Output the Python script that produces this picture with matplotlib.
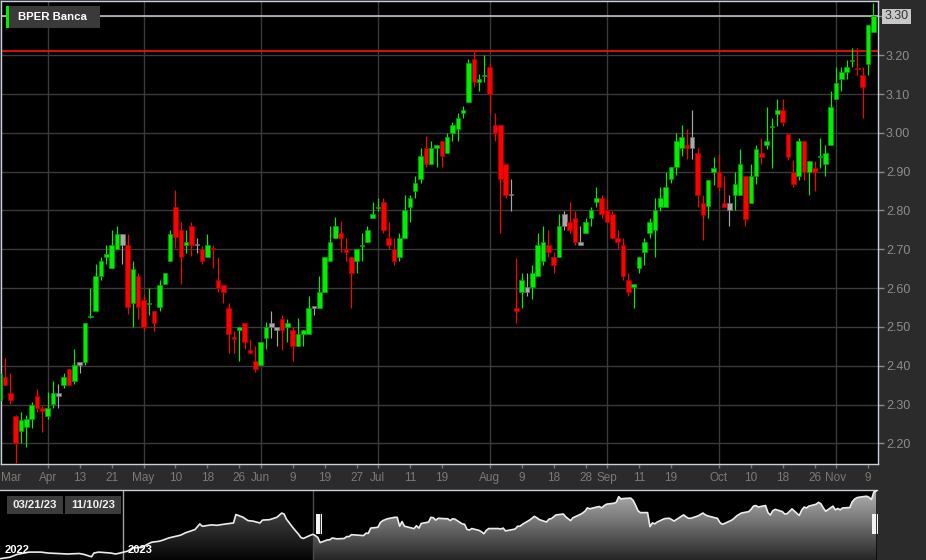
import numpy as np
import pandas as pd
import matplotlib
matplotlib.use("Agg")
import matplotlib.pyplot as plt
import matplotlib.dates as mdates
from matplotlib.colors import LinearSegmentedColormap
from matplotlib.patches import Rectangle, Polygon
from matplotlib.transforms import blended_transform_factory

plt.rcParams["font.family"] = ["Liberation Sans", "DejaVu Sans"]

W, H = 926, 560

TITLE = "BPER Banca"
START, END = "2023-03-21", "2023-11-10"
HOLIDAYS = ["2023-04-07", "2023-04-10", "2023-05-01", "2023-08-15"]

# daily OHLC, Borsa Italiana sessions from START to END
opens = [
    2.312, 2.371, 2.330, 2.270, 2.232, 2.242, 2.262, 2.321, 2.290, 2.271,
    2.301, 2.321, 2.351, 2.391, 2.360, 2.410, 2.410, 2.526, 2.541, 2.631,
    2.680, 2.651, 2.701, 2.710, 2.710, 2.561, 2.630, 2.570, 2.558, 2.541,
    2.551, 2.610, 2.670, 2.809, 2.749, 2.710, 2.760, 2.710, 2.700, 2.681,
    2.701, 2.620, 2.609, 2.549, 2.472, 2.493, 2.511, 2.441, 2.411, 2.402,
    2.471, 2.511, 2.491, 2.520, 2.501, 2.491, 2.451, 2.482, 2.482, 2.550,
    2.550, 2.591, 2.670, 2.730, 2.741, 2.700, 2.681, 2.670, 2.709, 2.720,
    2.780, 2.807, 2.821, 2.730, 2.700, 2.681, 2.730, 2.810, 2.851, 2.881,
    2.960, 2.921, 2.960, 2.979, 2.949, 2.999, 3.009, 3.050, 3.080, 3.190,
    3.130, 3.146, 3.170, 3.020, 3.020, 2.919, 2.840, 2.550, 2.591, 2.591,
    2.602, 2.632, 2.670, 2.711, 2.681, 2.681, 2.761, 2.771, 2.780, 2.711,
    2.741, 2.780, 2.821, 2.831, 2.801, 2.791, 2.730, 2.711, 2.621, 2.602,
    2.651, 2.692, 2.741, 2.750, 2.810, 2.810, 2.881, 2.911, 2.960, 2.970,
    2.960, 2.948, 2.819, 2.811, 2.899, 2.899, 2.819, 2.800, 2.839, 2.839,
    2.890, 2.819, 2.890, 2.948, 2.968, 3.016, 3.049, 3.058, 2.998, 2.899,
    2.890, 2.978, 2.899, 2.909, 2.937, 2.919, 2.968, 3.088, 3.139, 3.158,
    3.186, 3.167, 3.148, 3.178, 3.259,
]
highs = [
    2.390, 2.420, 2.382, 2.272, 2.281, 2.272, 2.306, 2.341, 2.296, 2.333,
    2.360, 2.352, 2.381, 2.391, 2.442, 2.410, 2.511, 2.601, 2.661, 2.681,
    2.710, 2.751, 2.761, 2.740, 2.740, 2.670, 2.639, 2.584, 2.601, 2.541,
    2.620, 2.639, 2.751, 2.852, 2.771, 2.749, 2.771, 2.730, 2.708, 2.740,
    2.710, 2.681, 2.609, 2.561, 2.490, 2.501, 2.511, 2.470, 2.451, 2.462,
    2.512, 2.542, 2.501, 2.530, 2.520, 2.501, 2.522, 2.491, 2.580, 2.551,
    2.630, 2.681, 2.761, 2.782, 2.772, 2.730, 2.681, 2.700, 2.741, 2.761,
    2.821, 2.831, 2.831, 2.771, 2.730, 2.741, 2.840, 2.840, 2.889, 2.960,
    2.991, 2.979, 2.970, 2.979, 3.000, 3.029, 3.051, 3.070, 3.190, 3.209,
    3.151, 3.200, 3.181, 3.051, 3.020, 2.919, 2.881, 2.678, 2.640, 2.640,
    2.660, 2.741, 2.761, 2.750, 2.692, 2.791, 2.799, 2.821, 2.799, 2.761,
    2.780, 2.810, 2.861, 2.840, 2.831, 2.799, 2.750, 2.730, 2.640, 2.610,
    2.681, 2.730, 2.780, 2.831, 2.861, 2.900, 2.911, 3.000, 3.020, 3.011,
    3.059, 2.960, 2.839, 2.879, 2.939, 2.946, 2.890, 2.839, 2.899, 2.958,
    2.890, 2.919, 2.968, 2.988, 3.068, 3.038, 3.088, 3.088, 2.998, 2.929,
    2.988, 2.978, 2.928, 2.928, 2.988, 2.968, 3.109, 3.169, 3.169, 3.188,
    3.218, 3.218, 3.169, 3.279, 3.336,
]
lows = [
    2.300, 2.350, 2.302, 2.150, 2.200, 2.190, 2.240, 2.281, 2.230, 2.262,
    2.290, 2.292, 2.342, 2.351, 2.352, 2.382, 2.401, 2.524, 2.541, 2.621,
    2.661, 2.651, 2.701, 2.661, 2.532, 2.500, 2.521, 2.489, 2.530, 2.489,
    2.541, 2.610, 2.670, 2.704, 2.611, 2.691, 2.682, 2.691, 2.661, 2.681,
    2.651, 2.591, 2.561, 2.432, 2.433, 2.411, 2.443, 2.432, 2.383, 2.402,
    2.443, 2.471, 2.451, 2.441, 2.462, 2.411, 2.451, 2.451, 2.482, 2.530,
    2.550, 2.591, 2.670, 2.730, 2.692, 2.670, 2.550, 2.640, 2.670, 2.720,
    2.780, 2.799, 2.741, 2.702, 2.660, 2.670, 2.730, 2.771, 2.831, 2.870,
    2.911, 2.921, 2.911, 2.911, 2.949, 2.979, 2.979, 3.039, 3.080, 3.119,
    3.108, 3.130, 3.048, 2.979, 2.741, 2.831, 2.799, 2.510, 2.550, 2.580,
    2.572, 2.632, 2.660, 2.681, 2.640, 2.681, 2.750, 2.741, 2.711, 2.711,
    2.741, 2.761, 2.810, 2.780, 2.771, 2.730, 2.702, 2.621, 2.580, 2.550,
    2.640, 2.660, 2.730, 2.681, 2.799, 2.810, 2.870, 2.891, 2.941, 2.932,
    2.932, 2.810, 2.725, 2.781, 2.866, 2.849, 2.809, 2.759, 2.800, 2.839,
    2.759, 2.819, 2.869, 2.919, 2.958, 2.909, 3.018, 3.018, 2.929, 2.860,
    2.879, 2.879, 2.839, 2.849, 2.909, 2.890, 2.968, 3.088, 3.109, 3.139,
    3.169, 3.148, 3.038, 3.148, 3.259,
]
closes = [
    2.378, 2.351, 2.312, 2.202, 2.260, 2.262, 2.300, 2.292, 2.282, 2.290,
    2.330, 2.330, 2.371, 2.351, 2.401, 2.401, 2.511, 2.528, 2.630, 2.670,
    2.689, 2.710, 2.740, 2.740, 2.551, 2.650, 2.551, 2.500, 2.561, 2.511,
    2.609, 2.639, 2.740, 2.731, 2.680, 2.720, 2.710, 2.710, 2.670, 2.710,
    2.700, 2.601, 2.591, 2.482, 2.470, 2.501, 2.462, 2.432, 2.391, 2.462,
    2.501, 2.501, 2.501, 2.491, 2.511, 2.451, 2.482, 2.491, 2.550, 2.550,
    2.591, 2.681, 2.720, 2.761, 2.730, 2.692, 2.640, 2.700, 2.711, 2.750,
    2.791, 2.810, 2.750, 2.711, 2.670, 2.730, 2.801, 2.831, 2.870, 2.941,
    2.921, 2.960, 2.970, 2.941, 2.990, 3.020, 3.039, 3.059, 3.179, 3.130,
    3.140, 3.149, 3.100, 2.999, 2.881, 2.840, 2.840, 2.542, 2.621, 2.602,
    2.640, 2.711, 2.720, 2.692, 2.660, 2.761, 2.791, 2.750, 2.720, 2.720,
    2.771, 2.801, 2.831, 2.791, 2.771, 2.730, 2.720, 2.632, 2.591, 2.610,
    2.681, 2.720, 2.771, 2.801, 2.831, 2.861, 2.911, 2.979, 2.990, 2.960,
    2.990, 2.841, 2.789, 2.879, 2.909, 2.861, 2.809, 2.819, 2.869, 2.919,
    2.779, 2.890, 2.958, 2.939, 2.978, 3.018, 3.058, 3.028, 2.939, 2.869,
    2.978, 2.899, 2.928, 2.899, 2.939, 2.948, 3.068, 3.128, 3.158, 3.169,
    3.188, 3.165, 3.118, 3.279, 3.300,
]
# daily variation: u = up, d = down, f = unchanged
moves = (
    "uddduuuddu" "ufudufuuuu" "uuufduddud" "uuuddudfdu" "dddddudddu"
    "uffduduuuf" "uuuuddduuu" "uuddduuuuu" "duuduuuuud" "uuddddfduf"
    "uuuddufddf" "uuuddddddu" "uuuuuuuuud" "fdduuddfuu" "duuduuuddd"
    "ududuuuuuu" "udduu"
)

REF_LEVEL = 3.21
price_ticks = [2.20, 2.30, 2.40, 2.50, 2.60, 2.70, 2.80, 2.90, 3.00, 3.10, 3.20, 3.30]

tick_dates = [
    "2023-04-03", "2023-04-13", "2023-04-21", "2023-05-02", "2023-05-10",
    "2023-05-18", "2023-05-26", "2023-06-01", "2023-06-09", "2023-06-19",
    "2023-06-27", "2023-07-03", "2023-07-11", "2023-07-19", "2023-08-01",
    "2023-08-09", "2023-08-18", "2023-08-28", "2023-09-01", "2023-09-11",
    "2023-09-19", "2023-10-02", "2023-10-10", "2023-10-18", "2023-10-26",
    "2023-11-01", "2023-11-09",
]
tick_labels = [
    "Apr", "13", "21", "May", "10", "18", "26", "Jun", "9", "19", "27", "Jul",
    "11", "19", "Aug", "9", "18", "28", "Sep", "11", "19", "Oct", "10", "18",
    "26", "Nov", "9",
]

# navigator history before the selected window
hist_dates = [
    "2022-11-11", "2022-11-15", "2022-11-18", "2022-11-23", "2022-11-28",
    "2022-12-01", "2022-12-05", "2022-12-09", "2022-12-14", "2022-12-16",
    "2022-12-19", "2022-12-20", "2022-12-22", "2022-12-27", "2022-12-29",
    "2022-12-30", "2023-01-03", "2023-01-05", "2023-01-09", "2023-01-11",
    "2023-01-13", "2023-01-16", "2023-01-18", "2023-01-20", "2023-01-25",
    "2023-01-27", "2023-01-31", "2023-02-02", "2023-02-03", "2023-02-07",
    "2023-02-09", "2023-02-13", "2023-02-16", "2023-02-17", "2023-02-20",
    "2023-02-22", "2023-02-24", "2023-02-27", "2023-02-28", "2023-03-03",
    "2023-03-06", "2023-03-08", "2023-03-09", "2023-03-10", "2023-03-13",
    "2023-03-14", "2023-03-15", "2023-03-16", "2023-03-17", "2023-03-20",
]
hist_close = [
    1.86, 1.89, 1.95, 2.00, 2.00, 1.98, 1.97, 1.96, 1.97, 1.95,
    1.90, 1.98, 2.00, 1.98, 1.96, 1.97, 2.02, 2.09, 2.10, 2.16,
    2.21, 2.23, 2.26, 2.30, 2.36, 2.41, 2.48, 2.60, 2.55, 2.58,
    2.57, 2.60, 2.62, 2.80, 2.74, 2.67, 2.66, 2.62, 2.68, 2.69,
    2.74, 2.83, 2.81, 2.70, 2.50, 2.44, 2.38, 2.31, 2.29, 2.36,
]

BG = "#2b2b2b"
BORDER = "#c8d0dc"
GRID = "#3a3a3a"
LABEL = "#7a7a7a"
STYLE = {
    "u": ("#00ee00", "#00a000"),
    "d": ("#ff0000", "#b00000"),
    "f": ("#a8a8a8", "#707070"),
}


def fig_box(x0, y0, x1, y1):
    # pixel box measured from the top-left corner -> figure fraction
    return (x0 / W, 1 - y1 / H), (x1 - x0) / W, (y1 - y0) / H


def gradient_area(ax, x, y, top, bottom, ylim, zorder):
    verts = np.column_stack([np.concatenate([x, x[::-1]]),
                             np.concatenate([y, np.full(len(x), ylim[0])])])
    clip = Polygon(verts, closed=True, facecolor="none", edgecolor="none")
    ax.add_patch(clip)
    cmap = LinearSegmentedColormap.from_list("fade", [bottom, top])
    grad = np.linspace(0, 1, 256).reshape(-1, 1)
    im = ax.imshow(grad, cmap=cmap, aspect="auto", origin="lower",
                   extent=[x[0], x[-1], ylim[0], ylim[1]], zorder=zorder)
    im.set_clip_path(clip)


def main():
    dates = pd.bdate_range(START, END, freq="C", holidays=HOLIDAYS)
    n = len(dates)
    idx = np.arange(n)
    o, h, l, c = (np.array(v) for v in (opens, highs, lows, closes))

    fig = plt.figure(figsize=(W / 100, H / 100), dpi=100, facecolor=BG)

    # ---- main candlestick panel
    ax = fig.add_axes([1 / W, 96 / H, 877 / W, 463 / H], facecolor="black")

    face = [STYLE[m][0] for m in moves]
    edge = [STYLE[m][1] for m in moves]
    ax.vlines(idx, l, h, colors=face, lw=0.85, zorder=3)
    ax.bar(idx, np.maximum(np.abs(c - o), 0.003), bottom=np.minimum(o, c),
           width=0.86, color=face, edgecolor=edge, linewidth=0.5, zorder=4)

    for p in price_ticks:
        ax.axhline(p, color=GRID, lw=1, zorder=1)
    tick_pos = dates.get_indexer(pd.to_datetime(tick_dates))
    for pos, lab in zip(tick_pos, tick_labels):
        if lab.isalpha():
            ax.axvline(pos, color=GRID, lw=1, zorder=1)

    ax.axhline(REF_LEVEL, color="#ff1010", lw=1.2, zorder=2)
    ax.axhline(c[-1], color="#cccccc", lw=1.1, zorder=2)

    ax.set_xlim(0.244, 164.88)
    ax.set_ylim(2.1467, 3.3399)

    # date labels sit on a common baseline below the plot
    ax.set_xticks(tick_pos)
    ax.set_xticklabels([])
    ax.tick_params(axis="x", colors="#777777", length=3, width=1)
    base = blended_transform_factory(ax.transData, ax.transAxes)
    label_y = -(481 - 464) / 463
    for pos, lab in zip(tick_pos, tick_labels):
        ax.text(pos, label_y, lab, transform=base, ha="center", va="baseline",
                color=LABEL, fontsize=8.5)
    ax.text(0, label_y, "Mar", transform=ax.transAxes, ha="left", va="baseline",
            color=LABEL, fontsize=8.5)

    ax.yaxis.tick_right()
    ax.set_yticks(price_ticks)
    ax.set_yticklabels([f"{p:.2f}" for p in price_ticks[:-1]] + [""])
    ax.tick_params(axis="y", colors="#8a8a8a", labelcolor="#8c8c8c",
                   length=4.3, width=1, pad=1.5, labelsize=9)
    for s in ax.spines.values():
        s.set_color(BORDER)
        s.set_linewidth(1)

    # last price tag
    fig.canvas.draw()
    y_last = ax.transData.transform((0, c[-1]))[1]
    fig.add_artist(Rectangle((881.7 / W, (y_last - 7.2) / H), 29.3 / W, 14.3 / H,
                             transform=fig.transFigure, facecolor="#c8c8c8",
                             edgecolor="none"))
    fig.text(896.3 / W, y_last / H, f"{c[-1]:.2f}", ha="center", va="center",
             color="#333333", fontsize=9)

    # title tag
    xy, w, hh = fig_box(6, 6, 100, 28)
    fig.add_artist(Rectangle(xy, w, hh, transform=fig.transFigure,
                             facecolor="#3a3a3a", edgecolor="none"))
    xy, w, hh = fig_box(6, 6, 9, 28)
    fig.add_artist(Rectangle(xy, w, hh, transform=fig.transFigure,
                             facecolor="#00ee00", edgecolor="none"))
    fig.text(18 / W, 1 - 17 / H, TITLE, ha="left", va="center", color="white",
             fontsize=8.2, fontweight="bold")

    # ---- navigator
    nav = fig.add_axes([0, 0, 877 / W, 70 / H], facecolor="black")
    nav_ylim = (1.832, 3.321)
    sel_x = mdates.date2num(dates)
    hist_x = mdates.date2num(pd.to_datetime(hist_dates))
    pre_x = np.append(hist_x, sel_x[0])
    pre_y = np.append(hist_close, c[0])

    gradient_area(nav, pre_x, pre_y, "#5c5c5c", "#050505", nav_ylim, 1)
    gradient_area(nav, sel_x, c, "#b4b4b4", "#262626", nav_ylim, 1)
    nav.plot(np.concatenate([hist_x, sel_x]), np.concatenate([hist_close, c]),
             color="#ececec", lw=1.2, zorder=3)

    nav.axvline(mdates.date2num(pd.Timestamp("2023-01-01")), color="#a0a0a0",
                lw=1, zorder=2)
    nav.axvline(sel_x[0], color="#4a4a4a", lw=1, zorder=2)
    nav.set_xlim(mdates.date2num(pd.Timestamp("2022-11-11")), sel_x[-1] + 0.3)
    nav.set_ylim(*nav_ylim)
    nav.set_xticks([])
    nav.set_yticks([])
    for name, s in nav.spines.items():
        s.set_visible(name == "top")
        s.set_color(BORDER)
        s.set_linewidth(1)

    # range handles
    for x0 in (316, 872):
        xy, w, hh = fig_box(x0, 514, x0 + 6, 534)
        fig.add_artist(Rectangle(xy, w, hh, transform=fig.transFigure,
                                 facecolor="#3a3a3a", edgecolor="none", zorder=5))
        for k in range(3):
            xy, w, hh = fig_box(x0 + 0.3 + 2.1 * k, 514, x0 + 1.6 + 2.1 * k, 534)
            fig.add_artist(Rectangle(xy, w, hh, transform=fig.transFigure,
                                     facecolor="#f2f2f2", edgecolor="none",
                                     zorder=6))

    # range date boxes
    for (x0, x1), d in zip(((7, 63), (65, 121)), (dates[0], dates[-1])):
        xy, w, hh = fig_box(x0, 496, x1, 514)
        fig.add_artist(Rectangle(xy, w, hh, transform=fig.transFigure,
                                 facecolor="#3c3c3c", edgecolor="none", zorder=5))
        fig.text((x0 + x1) / 2 / W, 1 - 505 / H, d.strftime("%m/%d/%y"),
                 ha="center", va="center", color="#f0f0f0", fontsize=8.2,
                 fontweight="bold", zorder=6)

    for x0, year in ((5, "2022"), (128, "2023")):
        fig.text(x0 / W, 1 - 550 / H, year, ha="left", va="center",
                 color="white", fontsize=8, fontweight="bold")

    fig.savefig("out.png", dpi=100, facecolor=BG)


if __name__ == "__main__":
    main()
